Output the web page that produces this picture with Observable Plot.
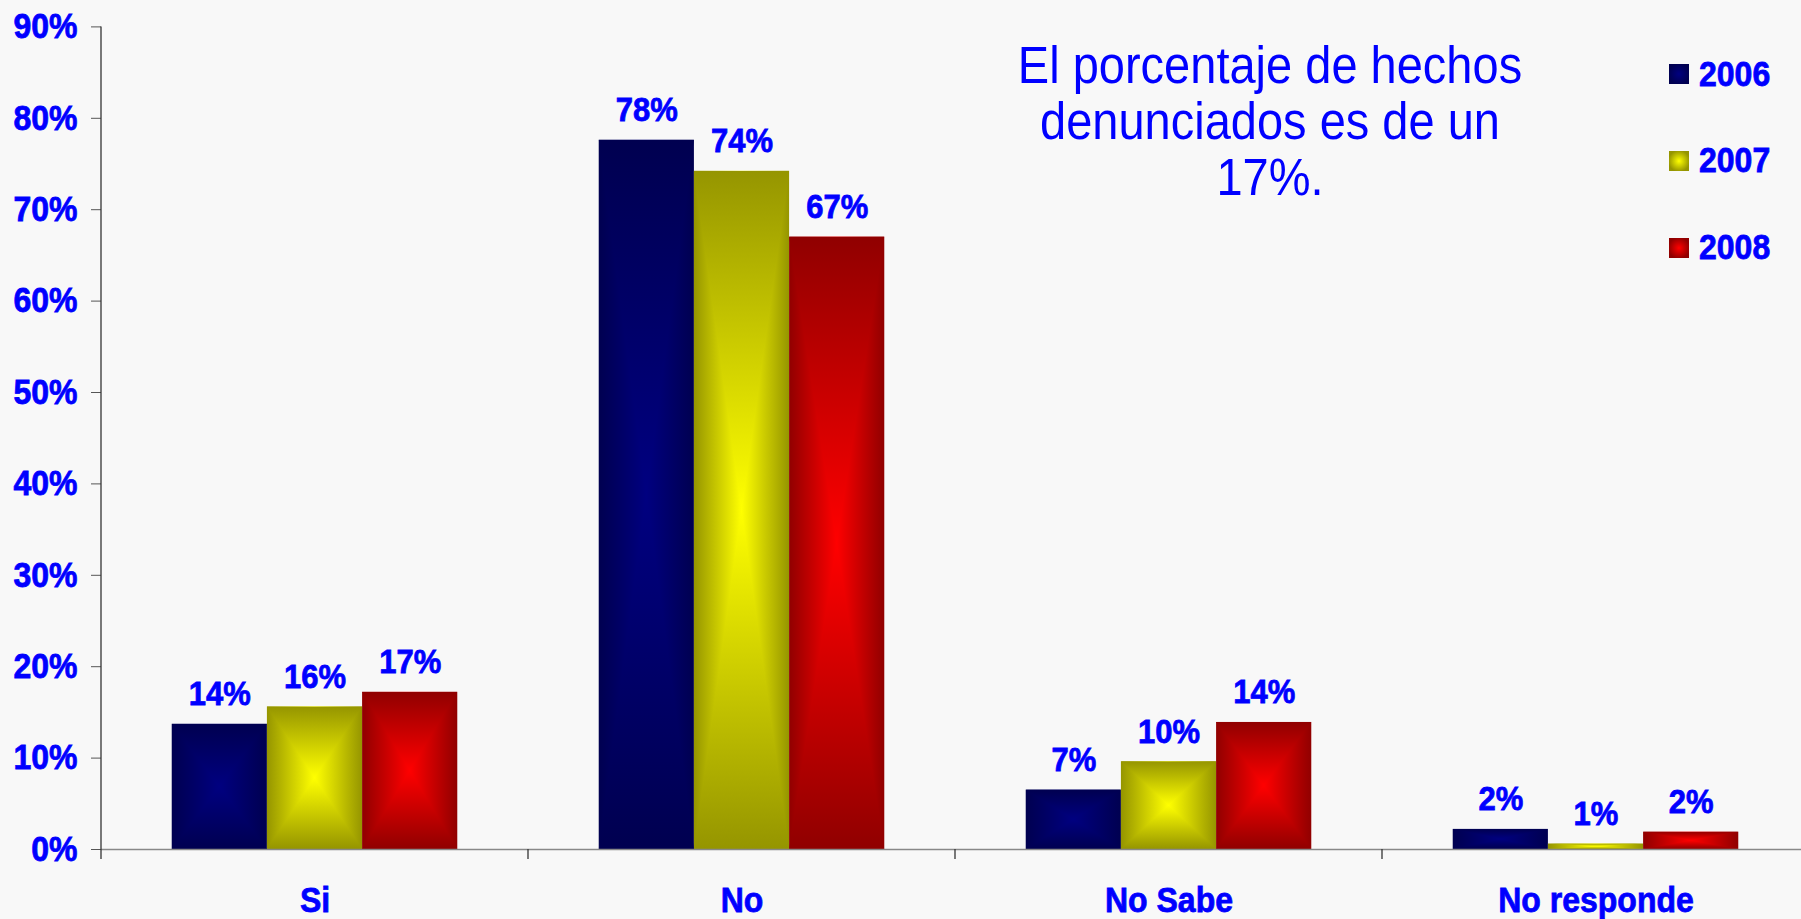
<!DOCTYPE html>
<html><head><meta charset="utf-8">
<script src="https://cdn.jsdelivr.net/npm/d3@7"></script>
<script src="https://cdn.jsdelivr.net/npm/@observablehq/plot@0.6"></script>
<style>
html,body{margin:0;padding:0;background:#f8f8f8;overflow:hidden;}
#wrap{position:relative;width:1801px;height:919px;}
#note{position:absolute;left:920px;top:36.5px;width:700px;text-align:center;color:#0000ff;font-family:"Liberation Sans",Arial,sans-serif;font-size:47px;line-height:51px;transform:scaleY(1.1);transform-origin:0 0;}
.leg{position:absolute;left:1669px;height:40px;display:flex;align-items:center;color:#0000ff;font:bold 32px "Liberation Sans",Arial,sans-serif;}
.leg span{display:inline-block;transform:scaleY(1.1);-webkit-text-stroke:0.7px #0000ff;}
.sw{width:20px;height:20px;margin-right:10px;}
</style></head><body><div id="wrap"></div>
<script>
const categories = ["Si", "No", "No Sabe", "No responde"];
const years = ["2006", "2007", "2008"];
const values2006 = [13.7, 77.6, 6.5, 2.2];
const values2007 = [15.6, 74.2, 9.6, 0.6];
const values2008 = [17.2, 67.0, 13.9, 1.9];
const yTicks = [0, 10, 20, 30, 40, 50, 60, 70, 80, 90];
const edgeColors = ["#000050", "#959500", "#900000"];
const centerColors = ["#000080", "#ffff00", "#ff0000"];
const noteLines = ["El porcentaje de hechos", "denunciados es de un", "17%."];

const series = [values2006, values2007, values2008];
const data = categories.flatMap((c, ci) => years.map((y, yi) => ({category: c, year: y, value: series[yi][ci]})));
const font = '"Liberation Sans", Arial, Helvetica, sans-serif';

const chart = Plot.plot({
  width: 1801, height: 919,
  marginLeft: 100, marginRight: -9, marginTop: 26.4, marginBottom: 70,
  style: {background: "#f8f8f8", fontFamily: font, fontWeight: "bold"},
  fx: {domain: categories, padding: 0, label: null},
  x: {domain: years, paddingInner: 0, paddingOuter: 0.743, axis: null, round: false},
  y: {domain: [0, 90], label: null},
  marks: [
    Plot.barY(data, {fx: "category", x: "year", y: "value", fill: d => `url(#h${d.year})`}),
    Plot.barY(data, {fx: "category", x: "year", y: "value", fill: d => `url(#v${d.year})`, ariaLabel: "vbar"}),
    Plot.ruleY([0], {stroke: "#888", strokeWidth: 1.5}),
    Plot.text(data, {fx: "category", x: "year", y: "value", text: d => Math.round(d.value) + "%",
      lineAnchor: "bottom", dy: -19, fill: "#0000ff", fontSize: 31, fontWeight: "bold"}),
    Plot.axisY({ticks: yTicks, tickFormat: d => d + "%", tickSize: 10, tickPadding: 14,
      stroke: "#555", fill: "#0000ff", fontSize: 32, fontWeight: "bold", label: null}),
    Plot.axisFx({anchor: "bottom", tickSize: 0, tickPadding: 38, fill: "#0000ff",
      fontSize: 32, fontWeight: "bold", label: null})
  ]
});

const svg = d3.select(chart);
const defs = svg.insert("defs", ":first-child");
years.forEach((y, i) => {
  for (const [id, x2, y2] of [["h", 1, 0], ["v", 0, 1]]) {
    const g = defs.append("linearGradient").attr("id", id + y)
      .attr("x1", 0).attr("y1", 0).attr("x2", x2).attr("y2", y2);
    g.append("stop").attr("offset", 0).attr("stop-color", edgeColors[i]);
    g.append("stop").attr("offset", 0.5).attr("stop-color", centerColors[i]);
    g.append("stop").attr("offset", 1).attr("stop-color", edgeColors[i]);
  }
});
defs.append("clipPath").attr("id", "bowtie").attr("clipPathUnits", "objectBoundingBox")
  .append("path").attr("d", "M0,0L1,0L0.5,0.5ZM0,1L1,1L0.5,0.5Z");
svg.selectAll("rect").each(function() {
  const f = this.getAttribute("fill") || "";
  if (f.startsWith("url(#v")) this.setAttribute("clip-path", "url(#bowtie)");
});

// slightly taller, heavier glyphs as in the original
svg.selectAll("text").each(function() {
  const t = this.getAttribute("transform");
  if (t) this.setAttribute("transform", t + " scale(1,1.1)");
  this.setAttribute("stroke", "#0000ff");
  this.setAttribute("stroke-width", "0.7");
});

// axis line and category boundary ticks, from the plot's scales
const fxS = chart.scale("fx"), yS = chart.scale("y");
const y0 = yS.apply(0), yTop = yS.apply(90);
const axisG = svg.append("g").attr("stroke", "#333").attr("stroke-width", 1.3);
const left = fxS.apply(categories[0]);
axisG.append("line").attr("x1", left).attr("x2", left).attr("y1", yTop).attr("y2", y0 + 10);
categories.forEach(c => {
  const xx = fxS.apply(c) + fxS.bandwidth;
  axisG.append("line").attr("x1", xx).attr("x2", xx).attr("y1", y0).attr("y2", y0 + 10);
});

const wrap = document.getElementById("wrap");
wrap.appendChild(chart);

const note = document.createElement("div");
note.id = "note";
noteLines.forEach(t => { const d = document.createElement("div"); d.textContent = t; note.appendChild(d); });
wrap.appendChild(note);

years.forEach((y, i) => {
  const row = document.createElement("div");
  row.className = "leg";
  row.style.top = (54 + i * 86.8) + "px";
  const sw = document.createElement("div");
  sw.className = "sw";
  sw.style.background = `radial-gradient(circle, ${centerColors[i]} 0%, ${edgeColors[i]} 75%)`;
  const t = document.createElement("span");
  t.textContent = y;
  row.appendChild(sw); row.appendChild(t);
  wrap.appendChild(row);
});
</script></body></html>
